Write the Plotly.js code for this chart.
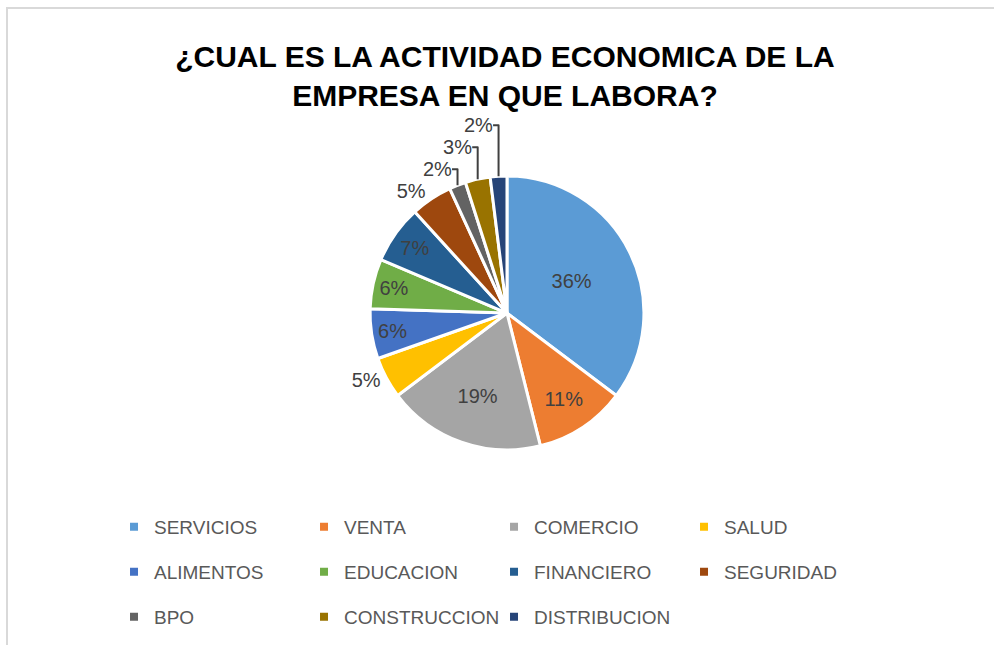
<!DOCTYPE html>
<html>
<head>
<meta charset="utf-8">
<script src="https://cdn.plot.ly/plotly-3.0.1.min.js"></script>
<style>
  html, body { margin: 0; padding: 0; background: #fff; overflow: hidden; }
  #chart { width: 994px; height: 645px; position: absolute; left: 0; top: 0; }
  #frame { position: absolute; left: 6px; top: 7px; width: 1100px; height: 800px;
           border-left: 2px solid #d9d9d9; border-top: 2px solid #d9d9d9; pointer-events: none; }
</style>
</head>
<body>
<div id="chart"></div>
<div id="frame"></div>
<script>
const categories = ["SERVICIOS", "VENTA", "COMERCIO", "SALUD", "ALIMENTOS", "EDUCACION",
                    "FINANCIERO", "SEGURIDAD", "BPO", "CONSTRUCCION", "DISTRIBUCION"];
const percentages = [36, 11, 19, 5, 6, 6, 7, 5, 2, 3, 2];
const sliceColors = ["#5B9BD5", "#ED7D31", "#A5A5A5", "#FFC000", "#4472C4", "#70AD47",
                     "#255E91", "#9E480E", "#636363", "#997300", "#264478"];
const labelPositions = ["inside", "inside", "inside", "outside", "inside", "inside",
                        "inside", "outside", "outside", "outside", "outside"];
const chartTitle = "¿CUAL ES LA ACTIVIDAD ECONOMICA DE LA<br>EMPRESA EN QUE LABORA?";

const textFont = "Liberation Sans, Arial, sans-serif";

const mainPie = {
  type: "pie",
  labels: categories,
  values: percentages,
  sort: false,
  direction: "clockwise",
  rotation: 0,
  marker: { colors: sliceColors, line: { color: "#ffffff", width: 3 } },
  texttemplate: "%{value}%",
  textposition: labelPositions,
  insidetextorientation: "horizontal",
  textfont: { family: textFont, size: 20, color: "#404040" },
  insidetextfont: { family: textFont, size: 20, color: "#404040" },
  outsidetextfont: { family: textFont, size: 20, color: "#404040" },
  showlegend: false,
  hoverinfo: "label+value",
  domain: { x: [0.3722, 0.6479], y: [0.3024, 0.7270] }
};

// legend rows (4 entries per row), drawn through tiny invisible pies
const legendNames = ["legend", "legend2", "legend3"];
const legendTraces = legendNames.map((lg, i) => {
  const idx = [0, 1, 2, 3].map(k => i * 4 + k).filter(k => k < categories.length);
  return {
    type: "pie",
    labels: idx.map(k => categories[k]),
    values: idx.map(k => percentages[k]),
    sort: false,
    marker: { colors: idx.map(k => sliceColors[k]), line: { color: "#ffffff", width: 4 } },
    textinfo: "none",
    hoverinfo: "skip",
    showlegend: true,
    legend: lg,
    domain: { x: [0, 0.0001], y: [0, 0.0001] }
  };
});

const rowY = [527, 572, 617];
function legendCfg(i) {
  return {
    orientation: "h",
    x: 0.1147, xanchor: "left",
    y: 1 - rowY[i] / 645, yanchor: "middle",
    entrywidth: 145, entrywidthmode: "pixels",
    font: { family: textFont, size: 19, color: "#595959" },
    bgcolor: "rgba(0,0,0,0)",
    traceorder: "normal",
    valign: "middle"
  };
}

const layout = {
  width: 994, height: 645,
  margin: { l: 0, r: 0, t: 0, b: 0 },
  paper_bgcolor: "#ffffff",
  title: {
    text: chartTitle,
    font: { family: textFont, size: 30, color: "#000000", weight: "bold" },
    x: 0.508, xanchor: "center",
    y: 0.8960, yanchor: "top"
  },
  legend: legendCfg(0),
  legend2: legendCfg(1),
  legend3: legendCfg(2)
};

Plotly.newPlot("chart", [mainPie].concat(legendTraces), layout, { displayModeBar: false, staticPlot: true });
</script>
</body>
</html>
